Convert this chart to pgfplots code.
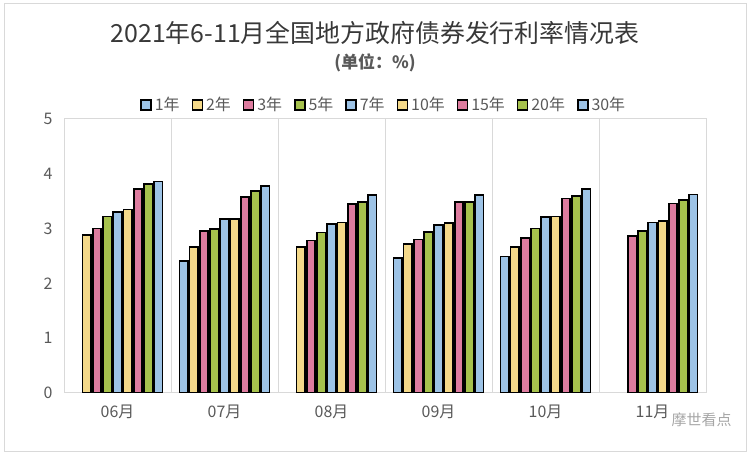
\documentclass[border=0pt]{standalone}
\usepackage{pgfplots}
\pgfplotsset{compat=1.18}
\usepackage{fontspec}
\setmainfont{Noto Sans CJK SC}
\newfontfamily\cjk{Noto Sans CJK SC}
\definecolor{cblue}{HTML}{9DC3E6}
\definecolor{cyellow}{HTML}{F4D98A}
\definecolor{cpink}{HTML}{DD7C9F}
\definecolor{cgreen}{HTML}{A6C14D}
\definecolor{txt}{HTML}{595959}
\definecolor{gridc}{HTML}{D9D9D9}
\pgfplotsset{
  mybar/.style={fill=#1, draw=black, line width=1.7bp},
}
\begin{document}
\begin{tikzpicture}[x=1bp,y=1bp]
\useasboundingbox (0,0) rectangle (750,456);
\draw[gridc, line width=1bp] (4,4) rectangle (746,452);
\node[text=black!78, font=\fontsize{25}{30}\selectfont] at (375,423) {2021年6-11月全国地方政府债券发行利率情况表};
\node[text=txt, font=\fontsize{17}{20}\selectfont\bfseries] at (375,393) {(单位：\%)};
\begin{axis}[
  at={(64bp,63bp)}, anchor=south west,
  scale only axis, width=642bp, height=274bp,
  xmin=-0.5, xmax=5.5, ymin=0, ymax=5,
  axis line style={gridc, line width=1bp},
  xtick={0,1,2,3,4,5},
  xticklabels={06月,07月,08月,09月,10月,11月},
  ytick={0,1,2,3,4,5},
  major tick length=0pt,
  minor xtick={0.5,1.5,2.5,3.5,4.5},
  minor tick length=0pt,
  xminorgrids=true,
  minor grid style={gridc, line width=1bp},
  tick label style={text=txt, font=\fontsize{16}{19}\selectfont},
  /pgf/number format/assume math mode=true,
  yticklabel style={xshift=-8bp},
  xticklabel style={yshift=-8bp},
  ybar, bar width=0.08,
  legend style={at={(0.498,1.051)}, anchor=center, draw=none, fill=none,
    font=\fontsize{16}{19}\selectfont, text=txt,
    legend columns=9,
    /tikz/every even column/.append style={column sep=10bp},
    /tikz/every odd column/.append style={column sep=1bp}},
  legend image code/.code={\draw[#1, line width=1.5bp] (0bp,-5bp) rectangle (10bp,5bp);},
]
\addplot[mybar=cblue, bar shift=-0.381] coordinates {(1,2.41) (3,2.46) (4,2.49)};
\addplot[mybar=cyellow, bar shift=-0.286] coordinates {(0,2.88) (1,2.66) (2,2.66) (3,2.72) (4,2.66)};
\addplot[mybar=cpink, bar shift=-0.191] coordinates {(0,3.00) (1,2.96) (2,2.78) (3,2.80) (4,2.83) (5,2.86)};
\addplot[mybar=cgreen, bar shift=-0.095] coordinates {(0,3.22) (1,2.99) (2,2.93) (3,2.94) (4,3.00) (5,2.95)};
\addplot[mybar=cblue, bar shift=0] coordinates {(0,3.30) (1,3.17) (2,3.08) (3,3.07) (4,3.21) (5,3.11)};
\addplot[mybar=cyellow, bar shift=0.095] coordinates {(0,3.35) (1,3.18) (2,3.11) (3,3.10) (4,3.22) (5,3.14)};
\addplot[mybar=cpink, bar shift=0.191] coordinates {(0,3.72) (1,3.58) (2,3.45) (3,3.49) (4,3.55) (5,3.46)};
\addplot[mybar=cgreen, bar shift=0.286] coordinates {(0,3.81) (1,3.69) (2,3.49) (3,3.49) (4,3.60) (5,3.52)};
\addplot[mybar=cblue, bar shift=0.381] coordinates {(0,3.86) (1,3.78) (2,3.61) (3,3.61) (4,3.72) (5,3.62)};
\legend{1年,2年,3年,5年,7年,10年,15年,20年,30年}
\end{axis}
\node[text=black!35, font=\fontsize{15}{18}\selectfont, anchor=east] at (735,36) {摩世看点};
\end{tikzpicture}
\end{document}
